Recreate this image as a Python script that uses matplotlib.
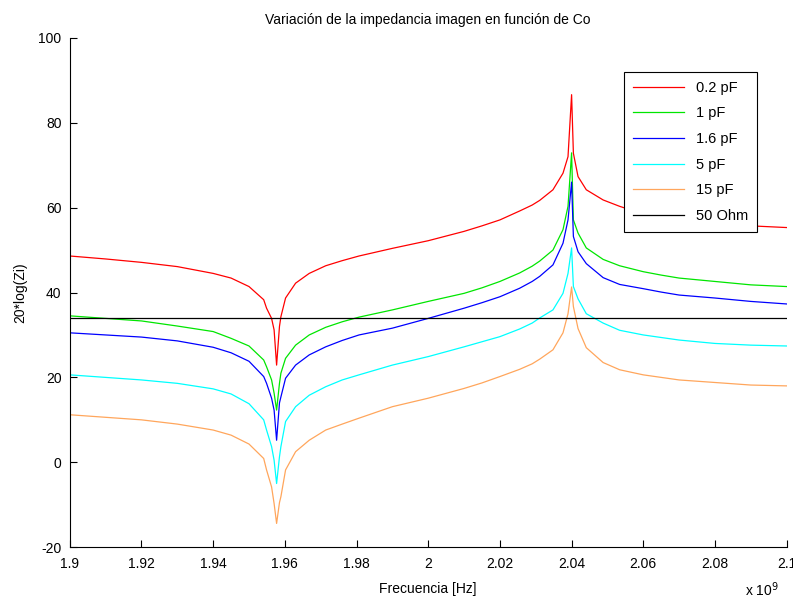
import numpy as np
import matplotlib
matplotlib.use("Agg")
import matplotlib.pyplot as plt
from matplotlib.ticker import FuncFormatter

plt.rcParams['font.family'] = ['Liberation Sans', 'DejaVu Sans']
plt.rcParams['axes.unicode_minus'] = False

# frequency in GHz (scaled to Hz below)
freq_ghz = [1.900, 1.910, 1.920, 1.930, 1.940, 1.945, 1.950, 1.9541, 1.9549, 1.9563,
            1.957, 1.9577, 1.9585, 1.9589, 1.9602, 1.9630, 1.9668, 1.9714, 1.976, 1.9807,
            1.990, 2.000, 2.010, 2.015, 2.020, 2.0255, 2.029, 2.0311, 2.0348,
            2.0376, 2.039, 2.040, 2.0405, 2.0418, 2.0441, 2.0488, 2.0534, 2.060, 2.065,
            2.070, 2.080, 2.090, 2.100]

zi_02pF = [48.6, 47.9, 47.1, 46.1, 44.5, 43.4, 41.4, 38.3, 36.3, 33.9,
           31.2, 22.9, 32.0, 34.3, 38.7, 42.2, 44.5, 46.3, 47.5, 48.6,
           50.4, 52.2, 54.4, 55.7, 57.1, 59.2, 60.6, 61.7, 64.2,
           68.1, 72.0, 86.6, 72.8, 67.3, 64.2, 61.8, 60.3, 58.5, 57.8,
           57.2, 56.3, 55.7, 55.3]
zi_1pF = [34.5, 33.9, 33.3, 32.1, 30.8, 29.2, 27.4, 24.1, 22.5, 19.4,
          16.3, 12.3, 18.6, 21.0, 24.5, 27.6, 30.0, 31.8, 33.1, 34.2,
          35.9, 37.9, 39.8, 41.1, 42.6, 44.6, 46.2, 47.4, 50.0,
          54.8, 60.3, 72.9, 57.1, 54.0, 50.5, 47.8, 46.3, 44.9, 44.1,
          43.4, 42.6, 41.8, 41.4]
zi_16pF = [30.5, 30.0, 29.5, 28.6, 27.1, 25.8, 23.8, 20.2, 18.6, 15.1,
           12.3, 5.2, 14.0, 15.4, 19.8, 22.9, 25.3, 27.2, 28.7, 30.0,
           31.6, 33.9, 36.3, 37.6, 39.0, 41.0, 42.6, 43.8, 46.5,
           51.6, 57.1, 66.0, 53.2, 49.6, 46.8, 43.5, 41.9, 40.9, 40.1,
           39.4, 38.7, 37.9, 37.3]
zi_5pF = [20.6, 20.0, 19.4, 18.6, 17.3, 16.1, 13.8, 10.0, 7.6, 3.7,
          0.5, -5.0, 1.3, 3.7, 9.6, 13.1, 15.8, 17.8, 19.4, 20.6,
          22.9, 24.9, 27.2, 28.4, 29.6, 31.4, 32.8, 34.0, 35.9,
          39.8, 44.5, 50.5, 41.4, 38.5, 35.0, 32.8, 31.1, 30.0, 29.4,
          28.8, 28.0, 27.6, 27.4]
zi_15pF = [11.2, 10.6, 10.0, 9.0, 7.6, 6.4, 4.3, 0.9, -1.8, -5.8,
           -9.7, -14.4, -9.5, -8.1, -1.8, 2.5, 5.2, 7.6, 9.0, 10.4,
           13.1, 15.1, 17.4, 18.7, 20.2, 21.9, 23.2, 24.3, 26.5,
           30.5, 35.0, 41.3, 36.7, 31.5, 27.0, 23.5, 21.8, 20.6, 20.0,
           19.4, 18.8, 18.2, 18.0]
ref_freq_ghz = [1.9, 2.1]
ref_50ohm = [33.98, 33.98]

labels = ['0.2 pF', '1 pF', '1.6 pF', '5 pF', '15 pF', '50 Ohm']
colors = ['#ff0000', '#00e600', '#0000ff', '#00ffff', '#ffa65c', '#000000']

f = np.array(freq_ghz) * 1e9
series = [zi_02pF, zi_1pF, zi_16pF, zi_5pF, zi_15pF]

fig = plt.figure(figsize=(7.93, 6.0), dpi=100)
ax = fig.add_axes([0.088, 0.088, 0.904, 0.849])

for y, lab, c in zip(series, labels[:5], colors[:5]):
    ax.plot(f, y, color=c, lw=0.9, label=lab)
ax.plot(np.array(ref_freq_ghz) * 1e9, ref_50ohm, color=colors[5], lw=0.9, label=labels[5])

ax.set_xlim(1.9e9, 2.1e9)
ax.set_ylim(-20, 100)
ax.set_xticks(np.arange(1.9e9, 2.1e9 + 1, 0.02e9))
ax.set_yticks(np.arange(-20, 101, 20))
ax.xaxis.set_major_formatter(FuncFormatter(lambda v, p: ('%.2f' % (v / 1e9)).rstrip('0').rstrip('.')))

for s in ['top', 'right']:
    ax.spines[s].set_visible(False)
ax.tick_params(direction='in', length=5, width=0.8, labelsize=10)
ax.tick_params(axis='x', pad=7)
ax.tick_params(axis='y', pad=6)

ax.set_title('Variación de la impedancia imagen en función de Co', fontsize=10, pad=10)
ax.set_xlabel('Frecuencia [Hz]', fontsize=10, labelpad=8)
ax.set_ylabel('20*log(Zi)', fontsize=10, labelpad=8)
fig.text(0.94, 0.006, r'x 10$^{9}$', fontsize=10)

leg = ax.legend(loc='upper right', bbox_to_anchor=(0.958, 0.933), borderaxespad=0,
                fontsize=10.5, fancybox=False, framealpha=1, edgecolor='black',
                handlelength=3.5, labelspacing=0.8, borderpad=0.6)
leg.get_frame().set_linewidth(0.8)

plt.savefig('out.png', dpi=100)
